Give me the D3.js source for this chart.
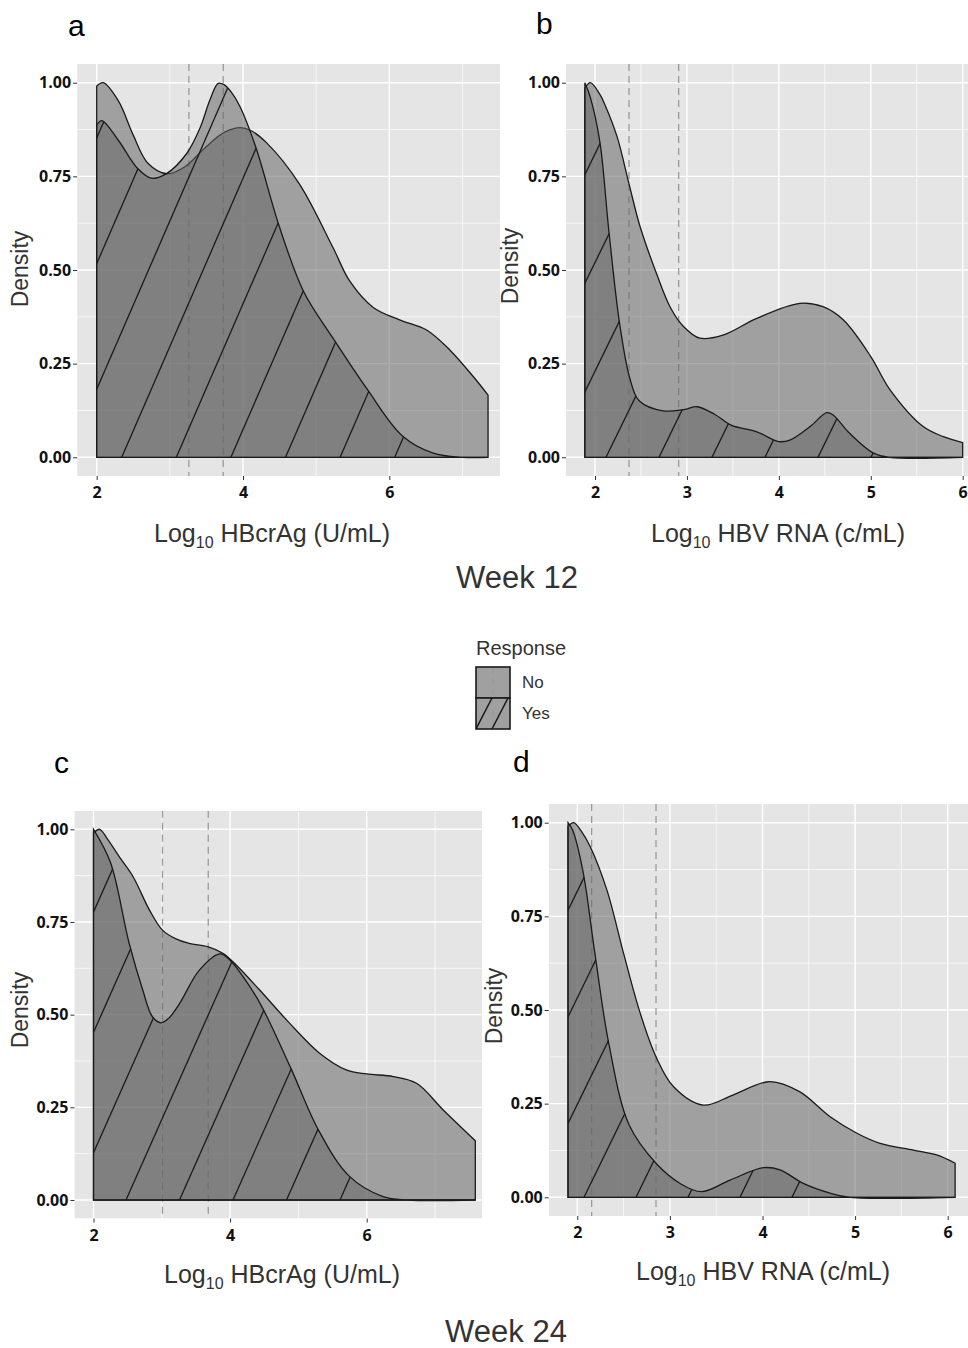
<!DOCTYPE html>
<html lang="en">
<head>
<meta charset="UTF-8">
<title>Density by response</title>
<script src="https://cdn.jsdelivr.net/npm/d3@7"></script>
<style>
body { margin: 0; background: #fff; }
.axis text { font-family: "Open Sans", sans-serif; font-size: 16px; font-weight: bold; fill: #111; }
.axis line { stroke: #333; }
.axis path.domain { display: none; }
.ttl { font-family: "Liberation Sans", Arial, sans-serif; fill: #333; }
.letter { font-family: "Liberation Sans", Arial, sans-serif; font-size: 30px; fill: #000; }
</style>
</head>
<body>
<script>
// ---- data: [x, scaled density] ----
var wk12CrAgNo  = [[2.0,0.991],[2.09,1.0],[2.3,0.95],[2.5,0.86],[2.7,0.785],[2.96,0.757],[3.2,0.775],[3.5,0.83],[3.75,0.868],[3.96,0.88],[4.1,0.873],[4.32,0.84],[4.77,0.73],[5.23,0.56],[5.46,0.47],[5.78,0.40],[6.14,0.367],[6.51,0.34],[6.83,0.286],[7.15,0.215],[7.35,0.166]];
var wk12CrAgYes = [[2.0,0.887],[2.07,0.899],[2.3,0.845],[2.56,0.771],[2.75,0.745],[2.96,0.758],[3.23,0.811],[3.41,0.878],[3.55,0.955],[3.66,0.998],[3.74,0.995],[3.84,0.975],[3.96,0.936],[4.18,0.825],[4.49,0.62],[4.83,0.442],[5.23,0.318],[5.70,0.181],[6.18,0.057],[6.6,0.011],[7.0,0.0],[7.35,0.0]];

var wk12RnaNo  = [[1.89,0.985],[1.95,1.0],[2.05,0.97],[2.11,0.94],[2.24,0.856],[2.37,0.73],[2.49,0.616],[2.67,0.49],[2.82,0.40],[2.96,0.35],[3.14,0.318],[3.4,0.327],[3.76,0.371],[4.23,0.411],[4.48,0.402],[4.70,0.367],[5.0,0.269],[5.21,0.18],[5.57,0.082],[5.79,0.055],[6.0,0.039]];
var wk12RnaYes = [[1.89,1.0],[1.95,0.96],[2.054,0.84],[2.15,0.606],[2.27,0.353],[2.38,0.21],[2.48,0.151],[2.74,0.124],[2.98,0.128],[3.11,0.135],[3.3,0.115],[3.48,0.086],[3.76,0.068],[4.0,0.042],[4.12,0.046],[4.34,0.082],[4.52,0.119],[4.59,0.113],[4.77,0.064],[5.03,0.011],[5.2,0.0],[6.0,0.0]];

var wk24CrAgNo  = [[2.0,0.99],[2.09,1.0],[2.2,0.975],[2.4,0.92],[2.58,0.872],[2.82,0.782],[3.01,0.728],[3.2,0.705],[3.4,0.692],[3.68,0.683],[3.9,0.665],[4.1,0.632],[4.43,0.567],[4.87,0.477],[5.31,0.396],[5.70,0.351],[6.0,0.34],[6.39,0.333],[6.73,0.315],[7.12,0.243],[7.59,0.16]];
var wk24CrAgYes = [[2.0,1.0],[2.25,0.91],[2.52,0.694],[2.72,0.567],[2.86,0.495],[2.99,0.478],[3.1,0.49],[3.26,0.53],[3.55,0.62],[3.85,0.664],[3.97,0.652],[4.2,0.6],[4.46,0.523],[4.90,0.351],[5.29,0.19],[5.74,0.065],[6.24,0.009],[6.6,0.0],[7.59,0.0]];

var wk24RnaNo  = [[1.90,0.99],[1.96,1.0],[2.05,0.975],[2.14,0.936],[2.32,0.82],[2.50,0.651],[2.68,0.491],[2.85,0.375],[3.04,0.295],[3.36,0.246],[3.68,0.273],[4.08,0.309],[4.40,0.282],[4.73,0.215],[5.02,0.171],[5.27,0.144],[5.63,0.126],[5.88,0.113],[6.08,0.091]];
var wk24RnaYes = [[1.90,1.0],[1.95,0.98],[2.06,0.872],[2.19,0.651],[2.34,0.411],[2.56,0.193],[2.85,0.091],[3.11,0.037],[3.34,0.015],[3.65,0.046],[4.01,0.079],[4.19,0.073],[4.44,0.037],[4.73,0.011],[4.95,0.0],[6.08,0.0]];

// dashed cut-offs
var cutsA = [3.26, 3.73];
var cutsB = [2.37, 2.91];
var cutsC = [3.01, 3.68];
var cutsD = [2.155, 2.85];

// ticks
var yTicks = [0, 0.25, 0.5, 0.75, 1];
var yMinor = [0.125, 0.375, 0.625, 0.875];
var crAgTicks = [2, 4, 6];
var crAgMinor = [3, 5, 7];
var rnaTicks = [2, 3, 4, 5, 6];
var rnaMinor = [2.5, 3.5, 4.5, 5.5];

var groups = ["No", "Yes"];

var W = 968, H = 1348;
var svg = d3.select("body").append("svg")
  .attr("width", W).attr("height", H)

var bg = "#e5e5e5", fillCol = "#656565", fillOp = 0.54, lineCol = "#1a1a1a"

var panels = [
  {key:"a", no:wk12CrAgNo, yes:wk12CrAgYes, dom:[2,7.35], xa:[2,96.7,6,389.3], ya:[457.3,82.7], crop:500,
   ticks:crAgTicks, minor:crAgMinor, cuts:cutsA, label:" HBcrAg (U/mL)", hatch:[121.7,54.6,2.3],
   letter:[68,36], dens:[28,269], title:[272,542]},
  {key:"b", no:wk12RnaNo, yes:wk12RnaYes, dom:[1.89,6.0], xa:[2,595,6,962.7], ya:[457.3,82.7], crop:968,
   ticks:rnaTicks, minor:rnaMinor, cuts:cutsB, label:" HBV RNA (c/mL)", hatch:[606,53,2.05],
   letter:[536,34], dens:[518,266], title:[778,542]},
  {key:"c", no:wk24CrAgNo, yes:wk24CrAgYes, dom:[2.0,7.59], xa:[2,93.5,6,366.7], ya:[1200,829.3], crop:482,
   ticks:crAgTicks, minor:crAgMinor, cuts:cutsC, label:" HBcrAg (U/mL)", hatch:[126,53.5,2.25],
   letter:[54,773], dens:[28,1010], title:[282,1283]},
  {key:"d", no:wk24RnaNo, yes:wk24RnaYes, dom:[1.90,6.08], xa:[2,577.3,6,947.7], ya:[1197.3,822.7], crop:968,
   ticks:rnaTicks, minor:rnaMinor, cuts:cutsD, label:" HBV RNA (c/mL)", hatch:[584,52,2.05],
   letter:[513,772], dens:[502,1006], title:[763,1280]}
]

var defs = svg.append("defs")

panels.forEach(function(p) {
  var x = d3.scaleLinear().domain([p.xa[0], p.xa[2]]).range([p.xa[1], p.xa[3]])
  var y = d3.scaleLinear().domain([0, 1]).range(p.ya)
  var span = p.dom[1] - p.dom[0]
  var left = x(p.dom[0] - 0.05 * span)
  var right = Math.min(p.crop, x(p.dom[1] + 0.05 * span))
  var top = y(1.05), bottom = y(-0.05)

  defs.append("clipPath").attr("id", "clip-" + p.key)
    .append("rect").attr("x", left).attr("y", top).attr("width", right - left).attr("height", bottom - top)

  var area = d3.area()
    .x(function(d) { return x(d[0]) })
    .y0(y(0))
    .y1(function(d) { return Math.min(y(0), y(d[1])) })
    .curve(d3.curveCatmullRom.alpha(0.5))

  defs.append("clipPath").attr("id", "yes-" + p.key)
    .append("path").attr("d", area(p.yes))

  var g = svg.append("g").attr("clip-path", "url(#clip-" + p.key + ")")

  g.append("rect").attr("x", left).attr("y", top).attr("width", right - left).attr("height", bottom - top)
    .attr("fill", bg)

  // grid
  g.selectAll(".gxm").data(p.minor).enter().append("line")
    .attr("x1", function(d) { return x(d) }).attr("x2", function(d) { return x(d) })
    .attr("y1", top).attr("y2", bottom).attr("stroke", "#fff").attr("stroke-width", 0.7)
  g.selectAll(".gym").data(yMinor).enter().append("line")
    .attr("y1", function(d) { return y(d) }).attr("y2", function(d) { return y(d) })
    .attr("x1", left).attr("x2", right).attr("stroke", "#fff").attr("stroke-width", 0.7)
  g.selectAll(".gx").data(p.ticks).enter().append("line")
    .attr("x1", function(d) { return x(d) }).attr("x2", function(d) { return x(d) })
    .attr("y1", top).attr("y2", bottom).attr("stroke", "#fff").attr("stroke-width", 1.4)
  g.selectAll(".gy").data(yTicks).enter().append("line")
    .attr("y1", function(d) { return y(d) }).attr("y2", function(d) { return y(d) })
    .attr("x1", left).attr("x2", right).attr("stroke", "#fff").attr("stroke-width", 1.4)

  // cut-off lines (under the densities)
  g.selectAll(".cut").data(p.cuts).enter().append("line")
    .attr("x1", function(d) { return x(d) }).attr("x2", function(d) { return x(d) })
    .attr("y1", top).attr("y2", bottom)
    .attr("stroke", "#999").attr("stroke-width", 1.3).attr("stroke-dasharray", "7,5")

  // No
  g.append("path").attr("d", area(p.no))
    .attr("fill", fillCol).attr("fill-opacity", fillOp)
    .attr("stroke", lineCol).attr("stroke-width", 1.3)

  // Yes with stripes
  g.append("path").attr("d", area(p.yes))
    .attr("fill", fillCol).attr("fill-opacity", fillOp)

  var y0 = y(0), hh = y0 - top + 10
  var ks = d3.range(-14, 14)
  g.append("g").attr("clip-path", "url(#yes-" + p.key + ")")
    .selectAll("line").data(ks).enter().append("line")
    .attr("x1", function(k) { return p.hatch[0] + k * p.hatch[1] - 10 / p.hatch[2] })
    .attr("y1", y0 + 10)
    .attr("x2", function(k) { return p.hatch[0] + k * p.hatch[1] + hh / p.hatch[2] })
    .attr("y2", y0 - hh)
    .attr("stroke", lineCol).attr("stroke-width", 1.3)

  g.append("path").attr("d", area(p.yes))
    .attr("fill", "none")
    .attr("stroke", lineCol).attr("stroke-width", 1.3)

  // axes
  svg.append("g").attr("class", "axis")
    .attr("transform", "translate(0," + bottom + ")")
    .call(d3.axisBottom(x).tickValues(p.ticks).tickSize(4).tickPadding(7).tickFormat(d3.format("d")))
  svg.append("g").attr("class", "axis")
    .attr("transform", "translate(" + left + ",0)")
    .call(d3.axisLeft(y).tickValues(yTicks).tickSize(4).tickPadding(2).tickFormat(d3.format(".2f")))

  // titles
  svg.append("text").attr("class", "letter").attr("x", p.letter[0]).attr("y", p.letter[1]).text(p.key)

  svg.append("text").attr("class", "ttl").attr("font-size", 23)
    .attr("text-anchor", "middle")
    .attr("transform", "translate(" + p.dens[0] + "," + p.dens[1] + ") rotate(-90)")
    .text("Density")

  var t = svg.append("text").attr("class", "ttl").attr("font-size", 25)
    .attr("text-anchor", "middle").attr("x", p.title[0]).attr("y", p.title[1])
  t.append("tspan").text("Log")
  t.append("tspan").attr("font-size", 16).attr("dy", 6).text("10")
  t.append("tspan").attr("dy", -6).text(p.label)
})

svg.append("text").attr("class", "ttl").attr("font-size", 31).attr("text-anchor", "middle")
  .attr("x", 517).attr("y", 588).text("Week 12")
svg.append("text").attr("class", "ttl").attr("font-size", 31).attr("text-anchor", "middle")
  .attr("x", 506).attr("y", 1342).text("Week 24")

// legend
var lg = svg.append("g").attr("transform", "translate(476,0)")
lg.append("text").attr("class", "ttl").attr("font-size", 20).attr("x", 0).attr("y", 655).text("Response")
var keyY = [667, 698]
defs.append("clipPath").attr("id", "keyclip")
  .append("rect").attr("x", 0).attr("y", keyY[1]).attr("width", 34).attr("height", 31)
groups.forEach(function(gname, i) {
  lg.append("rect").attr("x", 0).attr("y", keyY[i]).attr("width", 34).attr("height", 31)
    .attr("fill", bg)
  lg.append("rect").attr("x", 0).attr("y", keyY[i]).attr("width", 34).attr("height", 31)
    .attr("fill", fillCol).attr("fill-opacity", fillOp)
  lg.append("line").attr("x1", 17).attr("x2", 17).attr("y1", keyY[i]).attr("y2", keyY[i] + 31)
    .attr("stroke", "#999").attr("stroke-width", 1.2).attr("stroke-dasharray", "6,5")
  if (gname === "Yes") {
    lg.append("g").attr("clip-path", "url(#keyclip)").selectAll("line").data([0, 16]).enter()
      .append("line")
      .attr("x1", function(d) { return d }).attr("y1", keyY[i] + 31)
      .attr("x2", function(d) { return d + 16 }).attr("y2", keyY[i])
      .attr("stroke", lineCol).attr("stroke-width", 1.5)
  }
  lg.append("rect").attr("x", 0).attr("y", keyY[i]).attr("width", 34).attr("height", 31)
    .attr("fill", "none").attr("stroke", lineCol).attr("stroke-width", 1.6)
  lg.append("text").attr("class", "ttl").attr("font-size", 17)
    .attr("x", 46).attr("y", keyY[i] + 21).text(gname)
})
</script>
</body>
</html>
